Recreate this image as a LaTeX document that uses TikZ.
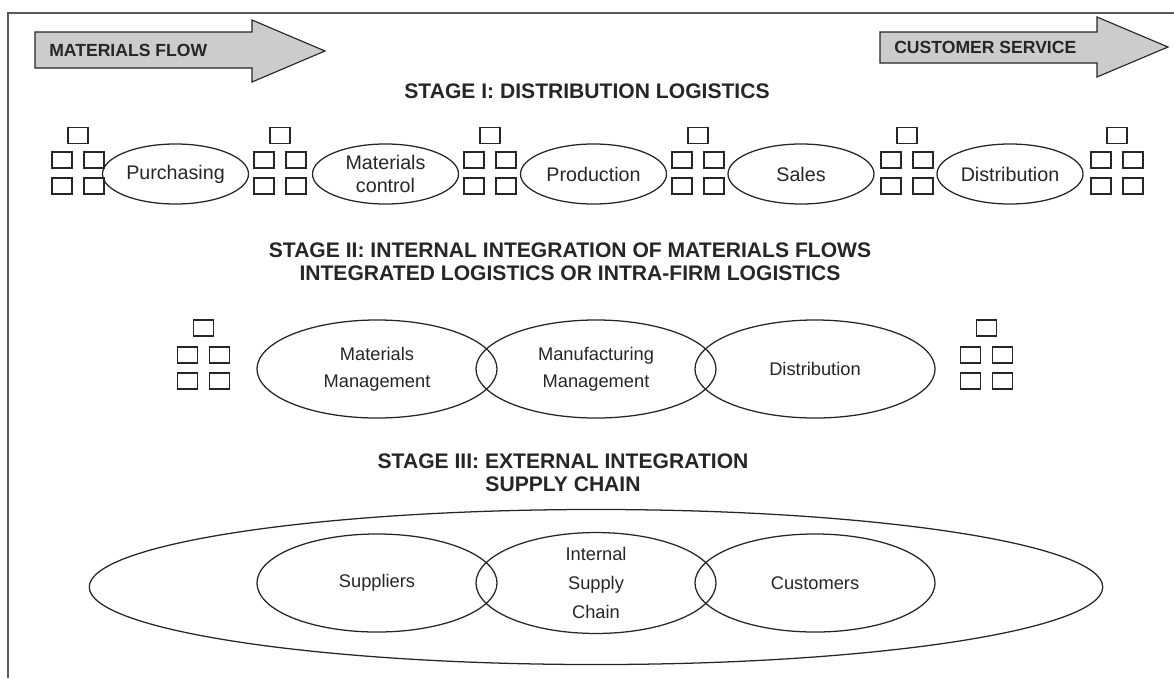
\documentclass[tikz,border=0pt]{standalone}
\usepackage{fontspec}
\setmainfont{Liberation Sans}
\usepackage{tikz}
\usetikzlibrary{shapes.geometric}
\definecolor{arrowfill}{rgb}{0.80,0.80,0.80}
\definecolor{inkline}{rgb}{0.15,0.15,0.15}
\definecolor{frameline}{rgb}{0.35,0.35,0.35}

\begin{document}
\begin{tikzpicture}[x=0.025cm, y=-0.025cm,
    sqbox/.style={rectangle, draw=inkline, line width=0.8pt, minimum width=0.5cm, minimum height=0.4cm, inner sep=0pt},
    func/.style={ellipse, draw=inkline, line width=0.9pt, minimum width=3.65cm, minimum height=1.5cm, inner sep=0pt, align=center, text=inkline, font=\fontsize{14}{16.4}\selectfont},
    area/.style={ellipse, draw=inkline, line width=0.9pt, minimum width=6cm, minimum height=2.45cm, inner sep=0pt, align=center, text=inkline, font=\fontsize{13}{19.2}\selectfont},
    stagetitle/.style={font=\fontsize{15}{16.5}\selectfont\bfseries, align=center, inner sep=0pt, text=inkline},
    flowarrow/.style={draw=inkline, line width=0.8pt, fill=arrowfill},
    flowtext/.style={font=\fontsize{12.5}{14}\selectfont\bfseries, anchor=west, inner sep=0pt, text=inkline}
]
\useasboundingbox (0,0) rectangle (1174,678);

% frame
\draw[frameline, line width=0.9pt] (8,678) -- (8,13) -- (1174,13);

% banner arrows
\draw[flowarrow] (35,32) -- (252,32) -- (252,20) -- (325,51) -- (252,82) -- (252,68) -- (35,68) -- cycle;
\node[flowtext] (matflow) at (49,50) {MATERIALS FLOW};
\draw[flowarrow] (880,32) -- (1097,32) -- (1097,17) -- (1168,47) -- (1097,77) -- (1097,63) -- (880,63) -- cycle;
\node[flowtext] (custserv) at (894,47) {CUSTOMER SERVICE};

% stage I
\node[stagetitle] (stage1) at (587,91) {STAGE I: DISTRIBUTION LOGISTICS};

\foreach \g/\gx in {1/78, 2/280, 3/490, 4/698, 5/907, 6/1117} {
  \node[sqbox] (g\g-t) at (\gx,135.5) {};
  \node[sqbox] (g\g-a) at (\gx-16,160) {};
  \node[sqbox] (g\g-b) at (\gx+16,160) {};
  \node[sqbox] (g\g-c) at (\gx-16,186) {};
  \node[sqbox] (g\g-d) at (\gx+16,186) {};
}

\node[func] (purch) at (175.5,174) {Purchasing};
\node[func] (matctrl) at (385.5,174) {Materials\\control};
\node[func] (prod) at (593.5,174) {Production};
\node[func] (sales) at (801,174) {Sales};
\node[func] (distr) at (1010,174) {Distribution};

% stage II
\node[stagetitle] (stage2) at (570,262) {STAGE II: INTERNAL INTEGRATION OF MATERIALS FLOWS\\INTEGRATED LOGISTICS OR INTRA-FIRM LOGISTICS};

\foreach \g/\gx in {7/203.5, 8/986.5} {
  \node[sqbox] (g\g-t) at (\gx,328) {};
  \node[sqbox] (g\g-a) at (\gx-16,355) {};
  \node[sqbox] (g\g-b) at (\gx+16,355) {};
  \node[sqbox] (g\g-c) at (\gx-16,381) {};
  \node[sqbox] (g\g-d) at (\gx+16,381) {};
}

\node[area] (matmgmt) at (377,369) {Materials\\Management};
\node[area] (mfgmgmt) at (596,369) {Manufacturing\\Management};
\node[area] (distmgmt) at (815,369) {Distribution};

% stage III
\node[stagetitle] (stage3) at (563,473) {STAGE III: EXTERNAL INTEGRATION\\SUPPLY CHAIN};

\node[ellipse, draw=inkline, line width=0.9pt, minimum width=25.33cm, minimum height=3.875cm] (chain) at (596,587) {};
\node[area] (suppl) at (377,583) {Suppliers};
\node[area, font=\fontsize{13}{20.6}\selectfont] (intsc) at (596,583) {Internal\\Supply\\Chain};
\node[area] (cust) at (815,583) {Customers};

\end{tikzpicture}
\end{document}
